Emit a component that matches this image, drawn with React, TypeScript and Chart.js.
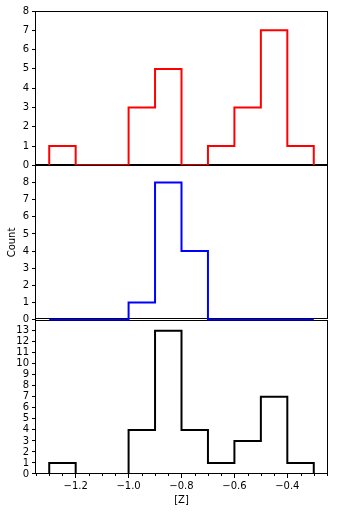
import React, { useEffect, useRef } from "react";
import { Chart, registerables } from "chart.js";

Chart.register(...registerables);

const binEdges = [-1.3, -1.2, -1.1, -1.0, -0.9, -0.8, -0.7, -0.6, -0.5, -0.4, -0.3];
const countsTop = [1, 0, 0, 3, 5, 0, 1, 3, 7, 1];
const countsMid = [0, 0, 0, 1, 8, 4, 0, 0, 0, 0];
const countsAll = [1, 0, 0, 4, 13, 4, 1, 3, 7, 1];

const xMajorTicks = [-1.2, -1.0, -0.8, -0.6, -0.4];
const xMinorTicks = [-1.35, -1.3, -1.25, -1.15, -1.1, -1.05, -0.95, -0.9, -0.85, -0.75, -0.7, -0.65, -0.55, -0.5, -0.45, -0.35, -0.3, -0.25];
const xMin = -1.35;
const xMax = -0.25;
const yTopMax = 8;
const yMidMax = 9;
const yBotMax = 14;

const FONT = "'DejaVu Sans', sans-serif";

function stepPoints(edges: number[], counts: number[]) {
  const pts: { x: number; y: number }[] = [{ x: edges[0], y: 0 }];
  counts.forEach((c, i) => pts.push({ x: edges[i], y: c }));
  pts.push({ x: edges[edges.length - 1], y: 0 });
  return pts;
}

function yScale(max: number, hideTop: boolean, title?: string) {
  return {
    type: "linear" as const,
    position: "left" as const,
    stack: "panels",
    stackWeight: 1,
    min: 0,
    max,
    afterBuildTicks: (scale: any) => {
      const t: { value: number }[] = [];
      for (let v = 0; v <= max; v++) {
        if (hideTop && v === max) continue;
        t.push({ value: v });
      }
      scale.ticks = t;
    },
    afterFit: (scale: any) => {
      scale.width = 36;
    },
    ticks: {
      color: "#000",
      font: { family: FONT, size: 10 },
      padding: 3,
      autoSkip: false,
    },
    grid: {
      display: true,
      drawOnChartArea: false,
      tickLength: 4,
      tickColor: "#000",
      tickWidth: 1,
    },
    border: { display: false },
    title: title
      ? {
          display: true,
          text: title,
          color: "#000",
          font: { family: FONT, size: 10 },
          padding: { top: 6, bottom: 0 },
        }
      : { display: false },
  };
}

const framePlugin = {
  id: "frames",
  beforeDatasetsDraw(chart: any) {
    const { ctx, chartArea } = chart;
    ctx.save();
    ctx.strokeStyle = "#000";
    ctx.lineWidth = 1;
    ["yBot", "yMid", "yTop"].forEach((id) => {
      const s = chart.scales[id];
      ctx.strokeRect(
        Math.round(chartArea.left) - 0.5,
        Math.round(s.top) + 0.5,
        Math.round(chartArea.right - chartArea.left) + 1,
        Math.round(s.bottom - s.top) - 1
      );
    });
    const xs = chart.scales.x;
    const yb = Math.round(chartArea.bottom);
    ctx.beginPath();
    xMinorTicks.forEach((v) => {
      const px = Math.round(xs.getPixelForValue(v)) + 0.5;
      ctx.moveTo(px, yb);
      ctx.lineTo(px, yb + 2);
    });
    ctx.stroke();
    ctx.restore();
  },
};

export default function App() {
  const ref = useRef<HTMLCanvasElement | null>(null);
  useEffect(() => {
    if (!ref.current) return;
    const chart = new Chart(ref.current, {
      type: "line",
      data: {
        datasets: [
          {
            data: stepPoints(binEdges, countsTop),
            yAxisID: "yTop",
            borderColor: "#ff0000",
            borderWidth: 2,
            stepped: true,
            pointRadius: 0,
            fill: false,
          },
          {
            data: stepPoints(binEdges, countsMid),
            yAxisID: "yMid",
            borderColor: "#0000ff",
            borderWidth: 2,
            stepped: true,
            pointRadius: 0,
            fill: false,
            clip: { left: 0, right: 0, top: 0, bottom: 1 },
          },
          {
            data: stepPoints(binEdges, countsAll),
            yAxisID: "yBot",
            borderColor: "#000000",
            borderWidth: 2,
            stepped: true,
            pointRadius: 0,
            fill: false,
          },
        ],
      },
      options: {
        animation: false,
        responsive: false,
        events: [],
        layout: { padding: { left: 0, top: 11, right: 11, bottom: 0 } },
        plugins: { legend: { display: false }, tooltip: { enabled: false } },
        scales: {
          x: {
            type: "linear",
            position: "bottom",
            min: xMin,
            max: xMax,
            afterBuildTicks: (scale: any) => {
              scale.ticks = xMajorTicks.map((v) => ({ value: v }));
            },
            afterFit: (scale: any) => {
              scale.height = 39;
            },
            ticks: {
              color: "#000",
              font: { family: FONT, size: 10 },
              padding: 2,
              maxRotation: 0,
              autoSkip: false,
              callback: (v: any) => Number(v).toFixed(1).replace("-", "\u2212"),
            },
            grid: {
              display: true,
              drawOnChartArea: false,
              tickLength: 4,
              tickColor: "#000",
              tickWidth: 1,
            },
            border: { display: false },
            title: {
              display: true,
              text: "[Z]",
              color: "#000",
              font: { family: FONT, size: 10 },
              padding: { top: 0, bottom: 7 },
            },
          },
          yBot: yScale(yBotMax, true),
          yMid: yScale(yMidMax, true, "Count"),
          yTop: yScale(yTopMax, false),
        } as any,
      },
      plugins: [framePlugin],
    });
    return () => chart.destroy();
  }, []);
  return (
    <div style={{ position: "absolute", left: 0, top: 0, width: 338, height: 513, background: "#fff" }}>
      <canvas ref={ref} width={338} height={513} style={{ display: "block" }} />
    </div>
  );
}
